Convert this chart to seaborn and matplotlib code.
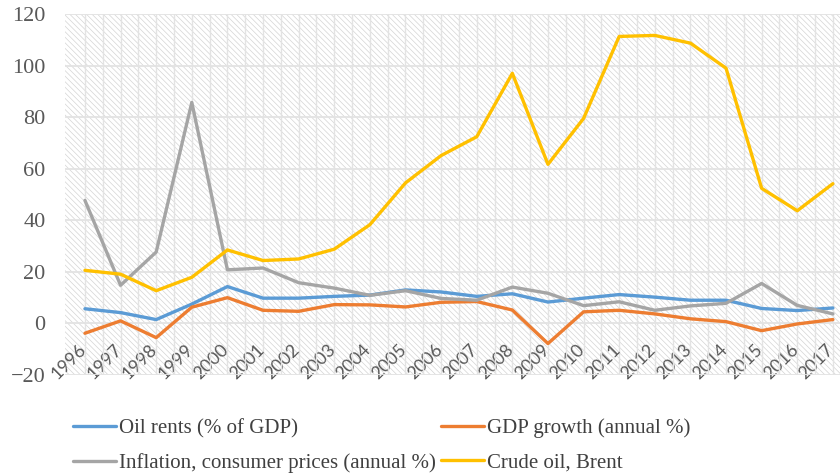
import numpy as np
import pandas as pd
import matplotlib
matplotlib.use("Agg")
import matplotlib.pyplot as plt
import matplotlib.transforms as mtransforms
import seaborn as sns
from matplotlib.patches import Rectangle

# data
years = list(range(1996, 2018))
oil_rents = [5.7, 4.2, 1.5, 7.5, 14.3, 9.8, 9.8, 10.5, 11.0, 13.0, 12.2, 10.5,
             11.5, 8.3, 9.8, 11.2, 10.2, 9.0, 9.0, 5.8, 5.0, 6.0]
gdp_growth = [-3.8, 1.0, -5.5, 6.3, 10.0, 5.1, 4.7, 7.3, 7.2, 6.4, 8.2, 8.5,
              5.2, -7.8, 4.5, 5.1, 3.7, 1.8, 0.7, -2.8, -0.2, 1.5]
inflation = [47.7, 14.8, 27.7, 85.7, 20.8, 21.5, 15.8, 13.7, 10.9, 12.7, 9.7, 9.0,
             14.1, 11.7, 6.9, 8.4, 5.1, 6.8, 7.8, 15.5, 7.0, 3.7]
brent = [20.6, 19.1, 12.7, 17.9, 28.5, 24.4, 25.0, 28.8, 38.3, 54.5, 65.1, 72.4,
         97.0, 61.7, 79.5, 111.3, 111.7, 108.7, 99.0, 52.4, 43.7, 54.2]

series_names = ["Oil rents (% of GDP)", "GDP growth (annual %)",
                "Inflation, consumer prices (annual %)", "Crude oil, Brent"]
series_colors = ["#5B9BD5", "#ED7D31", "#A5A5A5", "#FFC000"]

df = pd.DataFrame({"year": years,
                   series_names[0]: oil_rents,
                   series_names[1]: gdp_growth,
                   series_names[2]: inflation,
                   series_names[3]: brent})
df = df.melt(id_vars="year", var_name="series", value_name="value")

sns.set_style("white")
plt.rcParams["font.family"] = ["Liberation Serif", "DejaVu Serif"]
plt.rcParams["hatch.color"] = "#d4d4d4"
plt.rcParams["hatch.linewidth"] = 0.5

fig = plt.figure(figsize=(8.4, 4.75), dpi=100)
ax = fig.add_axes([0.0774, 0.2105, 0.9226, 0.76])

# hatched plot area
ax.add_patch(Rectangle((0, 0), 1, 1, transform=ax.transAxes, facecolor="white",
                       edgecolor="#d4d4d4", hatch="\\\\\\\\\\\\", linewidth=0, zorder=0.1))

sns.lineplot(data=df, x="year", y="value", hue="series",
             palette=dict(zip(series_names, series_colors)),
             linewidth=2.4, ax=ax, zorder=3)

handles, labels = ax.get_legend_handles_labels()
ax.get_legend().remove()

ax.set_xlim(1995.44, 2017.2)
ax.set_ylim(-20, 120)
ax.set_yticks(range(-20, 121, 20))
ax.set_xticks(years)
ax.set_xticks([y + 0.5 for y in years[:-1]], minor=True)
ax.tick_params(axis="x", which="both", length=0, pad=-24)
ax.tick_params(axis="y", length=0, pad=14, labelsize=16, labelcolor="#595959")
ax.set_xticklabels([str(y) for y in years], rotation=45, ha="right",
                   rotation_mode="anchor", fontsize=13, color="#595959")
# nudge the slanted year labels a little to the left
shift = mtransforms.ScaledTranslation(-7 / 100, 0, fig.dpi_scale_trans)
for lbl in ax.get_xticklabels():
    lbl.set_fontfamily(["Lato", "DejaVu Sans"])
    lbl.set_transform(lbl.get_transform() + shift)
ax.set_axisbelow(True)
ax.grid(True, axis="y", color="#e3e3e3", linewidth=1.3)
ax.grid(True, axis="x", which="both", color="#e3e3e3", linewidth=1.0)
ax.set_xlabel("")
ax.set_ylabel("")
for s in ax.spines.values():
    s.set_visible(False)

# row-wise legend order like the reference
order = [0, 2, 1, 3]
leg = fig.legend([handles[i] for i in order], [labels[i] for i in order],
                 ncol=2, loc="upper left", bbox_to_anchor=(0.064, 0.158),
                 frameon=False, fontsize=15, handlelength=2.07,
                 handletextpad=0.15, labelspacing=0.7, columnspacing=0.25,
                 borderpad=0.4)
for t in leg.get_texts():
    t.set_color("#404040")
for h in leg.get_lines():
    h.set_linewidth(2.4)

fig.savefig("out.png", dpi=100)
